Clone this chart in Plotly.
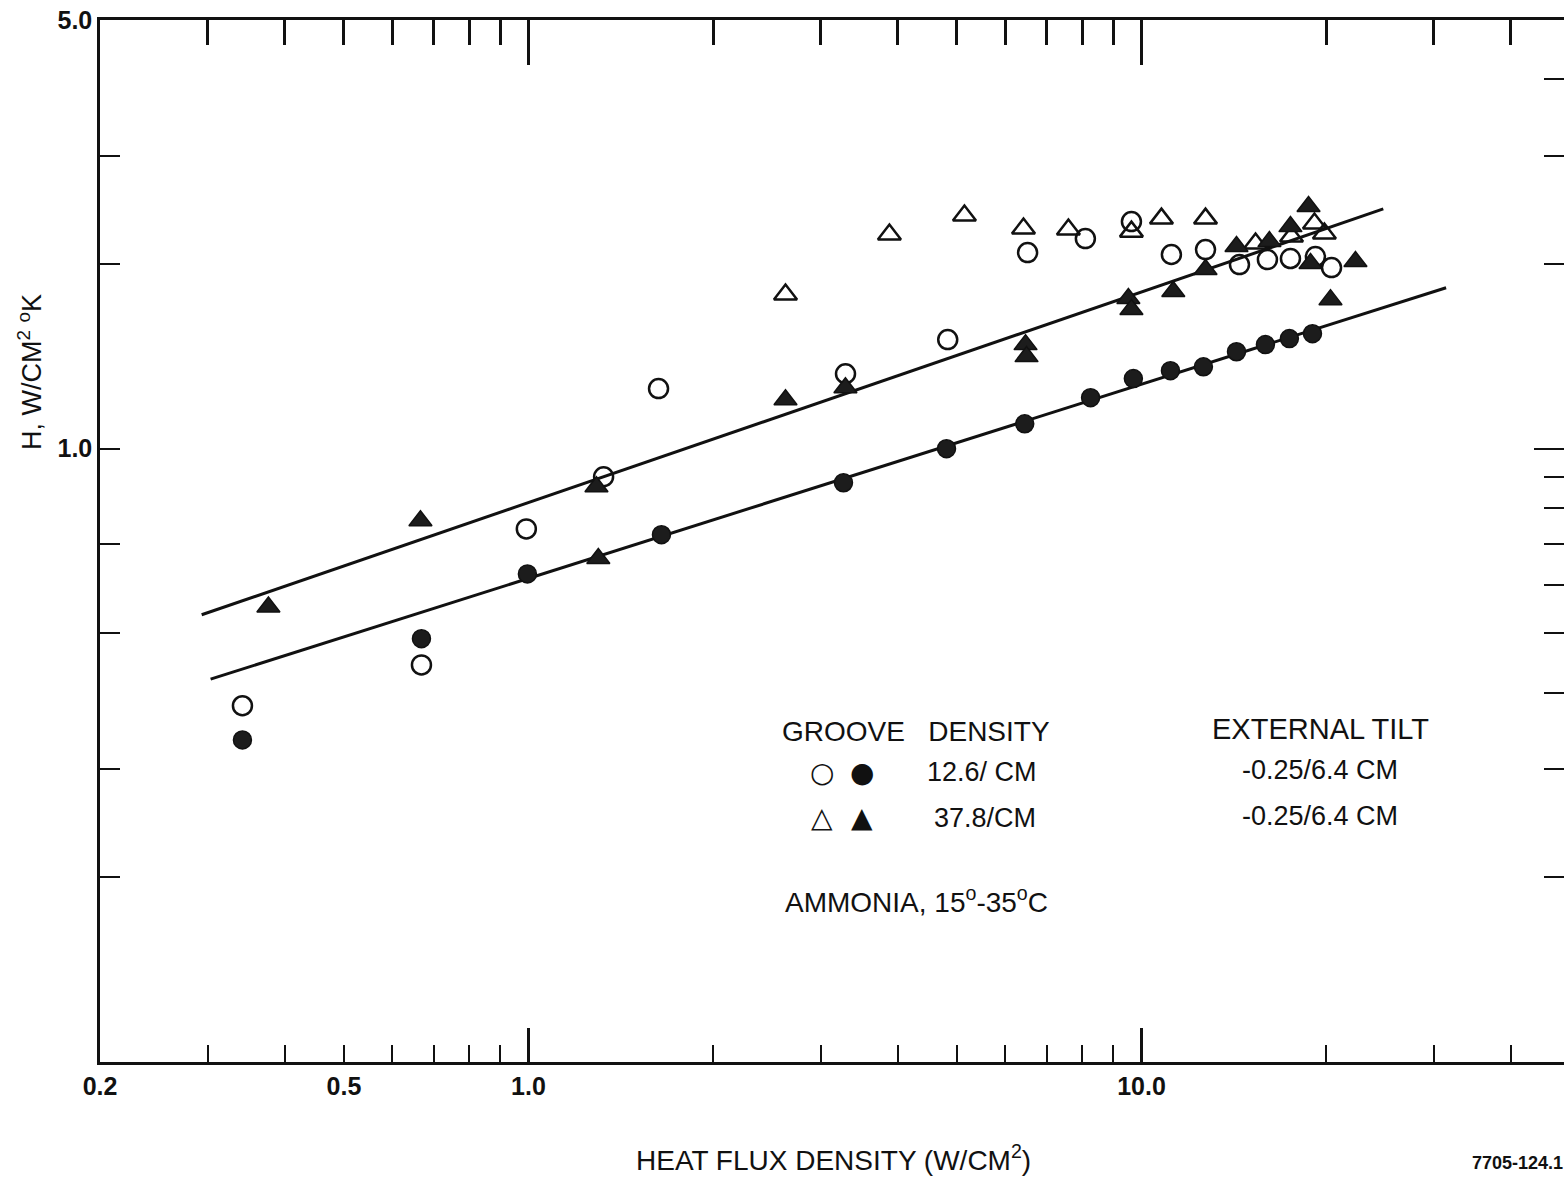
import plotly.graph_objects as go
import math

# ---------------- data ----------------
open_circle_x = [0.3415, 0.669, 0.992, 1.326, 1.63, 3.29, 4.83, 6.52, 8.10, 9.63, 11.19, 12.72, 14.45, 16.05, 17.50, 19.22, 20.42]
open_circle_y = [0.381, 0.444, 0.740, 0.900, 1.253, 1.325, 1.506, 2.088, 2.201, 2.346, 2.073, 2.112, 1.996, 2.034, 2.042, 2.057, 1.974]

filled_circle_x = [0.3415, 0.669, 0.996, 1.648, 3.265, 4.808, 6.45, 8.26, 9.70, 11.15, 12.62, 14.29, 15.93, 17.43, 19.01]
filled_circle_y = [0.335, 0.490, 0.625, 0.724, 0.880, 1.000, 1.098, 1.211, 1.301, 1.340, 1.360, 1.439, 1.478, 1.512, 1.540]

open_tri_x = [2.626, 3.88, 5.143, 6.42, 7.60, 9.63, 10.78, 12.72, 15.35, 17.57, 19.15, 19.88]
open_tri_y = [1.784, 2.234, 2.400, 2.285, 2.277, 2.259, 2.372, 2.372, 2.160, 2.218, 2.328, 2.243]

filled_tri_x = [0.3765, 0.6665, 1.291, 1.30, 2.626, 3.289, 6.47, 6.494, 9.52, 9.63, 11.27, 12.72, 14.29, 16.17, 17.50, 18.73, 18.87, 20.34, 22.34]
filled_tri_y = [0.552, 0.763, 0.867, 0.662, 1.202, 1.257, 1.478, 1.413, 1.757, 1.686, 1.804, 1.959, 2.136, 2.176, 2.302, 2.482, 2.004, 1.750, 2.019]

fit_upper_x = [0.293, 24.8]
fit_upper_y = [0.536, 2.46]
fit_lower_x = [0.303, 31.4]
fit_lower_y = [0.421, 1.83]

x_label_vals = [0.2, 0.5, 1, 10]
x_label_text = ["0.2", "0.5", "1.0", "10.0"]
x_minor_vals = [0.3, 0.4, 0.6, 0.7, 0.8, 0.9, 2, 3, 4, 5, 6, 7, 8, 9, 20, 30, 40]
x_top_minor_vals = [0.3, 0.4, 0.5, 0.6, 0.7, 0.8, 0.9, 2, 3, 4, 5, 6, 7, 8, 9, 20, 30, 40]
x_decade_vals = [1, 10]
y_label_vals = [1, 5]
y_label_text = ["1.0", "5.0"]
y_left_minor_vals = [0.2, 0.3, 0.5, 0.7, 2, 3]
y_right_minor_vals = [0.2, 0.3, 0.4, 0.5, 0.6, 0.7, 0.8, 0.9, 2, 3, 4]

# ---------------- geometry ----------------
W, H = 1564, 1178
ML, MR, MT, MB = 100, 0, 20, 116
PW = W - ML - MR
PH = H - MT - MB
x_lo = math.log10(0.2)
x_hi = x_lo + PW / 613.0
y_range = [-1, math.log10(5)]

def px(x):
    return (x - ML) / PW

def py(y):
    return (H - MB - y) / PH

FONT = "Liberation Sans, Arial, Helvetica, sans-serif"
BLACK = "#111111"

fig = go.Figure()

fig.add_trace(go.Scatter(x=fit_upper_x, y=fit_upper_y, mode="lines",
                         line=dict(color=BLACK, width=3), showlegend=False))
fig.add_trace(go.Scatter(x=fit_lower_x, y=fit_lower_y, mode="lines",
                         line=dict(color=BLACK, width=3), showlegend=False))

fig.add_trace(go.Scatter(x=open_circle_x, y=open_circle_y, mode="markers",
                         marker=dict(symbol="circle-open", size=19, color=BLACK,
                                     line=dict(width=2.5, color=BLACK)),
                         showlegend=False))
fig.add_trace(go.Scatter(x=open_tri_x, y=open_tri_y, mode="markers",
                         marker=dict(symbol="triangle-up-open", size=20, color=BLACK,
                                     line=dict(width=2.5, color=BLACK)),
                         showlegend=False))
fig.add_trace(go.Scatter(x=filled_circle_x, y=filled_circle_y, mode="markers",
                         marker=dict(symbol="circle", size=18, color="#1c1c1c",
                                     line=dict(width=1.5, color=BLACK)),
                         showlegend=False))
fig.add_trace(go.Scatter(x=filled_tri_x, y=filled_tri_y, mode="markers",
                         marker=dict(symbol="triangle-up", size=20, color="#1c1c1c",
                                     line=dict(width=1.5, color=BLACK)),
                         showlegend=False))

# empty traces so overlay axes are instantiated
fig.add_trace(go.Scatter(x=[], y=[], xaxis="x2", yaxis="y", showlegend=False))
fig.add_trace(go.Scatter(x=[], y=[], xaxis="x3", yaxis="y", showlegend=False))
fig.add_trace(go.Scatter(x=[], y=[], xaxis="x", yaxis="y2", showlegend=False))

tickfont = dict(family=FONT, size=25, color=BLACK, weight="bold")

fig.update_layout(
    width=W, height=H,
    margin=dict(l=ML, r=MR, t=MT, b=MB),
    paper_bgcolor="white", plot_bgcolor="white",
    font=dict(family=FONT, color=BLACK),
    showlegend=False,
    xaxis=dict(type="log", range=[x_lo, x_hi], showgrid=False, zeroline=False,
               showline=True, linewidth=2.5, linecolor=BLACK,
               ticks="inside", ticklen=17, tickwidth=2, tickcolor=BLACK,
               tickmode="array", tickvals=x_label_vals, ticktext=x_label_text,
               tickfont=tickfont,
               minor=dict(tickmode="array", tickvals=x_minor_vals, ticks="inside",
                          ticklen=17, tickwidth=2, tickcolor=BLACK, showgrid=False)),
    xaxis2=dict(type="log", range=[x_lo, x_hi], overlaying="x", side="top", anchor="y",
                showgrid=False, zeroline=False, showline=True, linewidth=2.5, linecolor=BLACK,
                ticks="inside", ticklen=45, tickwidth=3, tickcolor=BLACK,
                tickmode="array", tickvals=x_decade_vals, showticklabels=False,
                minor=dict(tickmode="array", tickvals=x_top_minor_vals, ticks="inside",
                           ticklen=25, tickwidth=2.5, tickcolor=BLACK, showgrid=False)),
    xaxis3=dict(type="log", range=[x_lo, x_hi], overlaying="x", side="bottom", anchor="y",
                showgrid=False, zeroline=False, showline=False,
                ticks="inside", ticklen=34, tickwidth=2.5, tickcolor=BLACK,
                tickmode="array", tickvals=x_decade_vals, showticklabels=False),
    yaxis=dict(type="log", range=y_range, showgrid=False, zeroline=False,
               showline=True, linewidth=2.5, linecolor=BLACK,
               ticks="inside", ticklen=20, tickwidth=2, tickcolor=BLACK,
               tickmode="array", tickvals=y_label_vals, ticktext=y_label_text,
               tickfont=tickfont,
               minor=dict(tickmode="array", tickvals=y_left_minor_vals, ticks="inside",
                          ticklen=20, tickwidth=2, tickcolor=BLACK, showgrid=False)),
    yaxis2=dict(type="log", range=y_range, overlaying="y", side="right", anchor="x",
                showgrid=False, zeroline=False, showline=False,
                ticks="inside", ticklen=30, tickwidth=2, tickcolor=BLACK,
                tickmode="array", tickvals=[1], showticklabels=False,
                minor=dict(tickmode="array", tickvals=y_right_minor_vals, ticks="inside",
                           ticklen=20, tickwidth=2, tickcolor=BLACK, showgrid=False)),
)

def ann(text, x, y, size=24, xanchor="left", weight="normal", family=FONT, angle=0):
    fig.add_annotation(text=text, x=px(x), y=py(y), xref="paper", yref="paper",
                       xanchor=xanchor, yanchor="middle", showarrow=False,
                       textangle=angle,
                       font=dict(family=family, size=size, color=BLACK, weight=weight))

# axis titles
ann("HEAT FLUX DENSITY (W/CM<sup>2</sup>)", 833, 1158, size=28, xanchor="center")
ann("H, W/CM<sup>2</sup> <sup>o</sup>K", 30, 372, size=27, xanchor="center", angle=-90)
ann("7705-124.1", 1517, 1163, size=18, xanchor="center", weight="bold")

# key text block
ann("GROOVE   DENSITY", 780, 731, size=28)
ann("EXTERNAL TILT", 1210, 729, size=29)
GLYPH = "DejaVu Sans, Noto Sans, sans-serif"
ann("\u25CB", 822, 772, size=28, xanchor="center", family=GLYPH)
ann("\u25CF", 862, 772, size=28, xanchor="center", family=GLYPH)
ann("12.6/ CM", 925, 772, size=27)
ann("-0.25/6.4 CM", 1240, 770, size=27)
ann("\u25B3", 822, 818, size=28, xanchor="center", family=GLYPH)
ann("\u25B2", 862, 818, size=28, xanchor="center", family=GLYPH)
ann("37.8/CM", 932, 818, size=27)
ann("-0.25/6.4 CM", 1240, 816, size=27)
ann("AMMONIA, 15<sup>o</sup>-35<sup>o</sup>C", 783, 900, size=28)

fig.write_html("out.html")
